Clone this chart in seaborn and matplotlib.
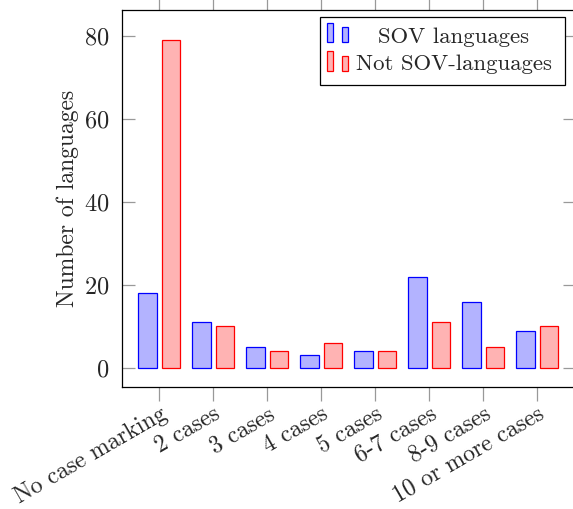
import matplotlib
matplotlib.use("Agg")
import matplotlib.pyplot as plt
import seaborn as sns
import pandas as pd
from matplotlib.patches import Rectangle

categories = ["No case marking", "2 cases", "3 cases", "4 cases", "5 cases",
              "6-7 cases", "8-9 cases", "10 or more cases"]
sov_values = [18, 11, 5, 3, 4, 22, 16, 9]
not_sov_values = [79, 10, 4, 6, 4, 11, 5, 10]
series_names = ["SOV languages", "Not SOV-languages"]
y_ticks = [0, 20, 40, 60, 80]

fills = ["#b3b3ff", "#ffb3b3"]
edges = ["#0000ff", "#ff0000"]

sns.set_style("white")
plt.rcParams["font.family"] = ["cmr10", "DejaVu Serif"]
plt.rcParams["axes.formatter.use_mathtext"] = True
plt.rcParams["mathtext.fontset"] = "cm"

df = pd.DataFrame({
    "category": categories * 2,
    "value": sov_values + not_sov_values,
    "series": [series_names[0]] * len(categories) + [series_names[1]] * len(categories),
})

W, H = 573, 509
fig = plt.figure(figsize=(W / 100, H / 100), dpi=100)
ax_left, ax_right, ax_top, ax_bottom = 121.5, 575.0, 10.0, 387.0
ax = fig.add_axes([ax_left / W, 1 - ax_bottom / H, (ax_right - ax_left) / W, (ax_bottom - ax_top) / H])

sns.barplot(data=df, x="category", y="value", hue="series", order=categories,
            hue_order=series_names, palette=fills, saturation=1, width=0.87, gap=0.2,
            linewidth=0.9, legend=False, ax=ax)
for cont, ec in zip(ax.containers, edges):
    for p in cont:
        p.set_edgecolor(ec)

ax.set_xlim(-0.70, len(categories) - 1 + 0.70)
ax.set_ylim(-4.6, 86.3)
ax.set_yticks(y_ticks)
ax.set_xlabel("")
ax.set_ylabel("Number of languages", fontsize=17, labelpad=3)

for s in ax.spines.values():
    s.set_visible(True)
    s.set_color("black")
    s.set_linewidth(0.9)

ax.tick_params(axis="y", direction="in", length=9, width=0.9, color="#999999",
               left=True, right=True, labelsize=17.5, pad=9)
ax.tick_params(axis="x", direction="out", length=10, width=0.9, color="#999999",
               bottom=True, top=True, labelsize=17, pad=1.5)
ax.set_xticks(range(len(categories)))
ax.set_xticklabels(categories, rotation=30, ha="right", va="top", rotation_mode="anchor")

# legend (pgfplots style, centered text)
def fr(x, y):
    return (x / W, 1 - y / H)

def add_rect(x0, y0, x1, y1, fc, ec, lw=0.9):
    fx, fy = fr(x0, y1)
    fig.add_artist(Rectangle((fx, fy), (x1 - x0) / W, (y1 - y0) / H, facecolor=fc,
                             edgecolor=ec, linewidth=lw, transform=fig.transFigure))

add_rect(320, 17, 565, 85, "white", "black")
rows = [(37, 23, 27, 42), (64, 51, 56, 71)]
for i, (yc, t1, t2, b) in enumerate(rows):
    add_rect(327, t1, 333, b, fills[i], edges[i])
    add_rect(342, t2, 348, b, fills[i], edges[i])
    fig.text(454 / W, 1 - yc / H, series_names[i], ha="center", va="center", fontsize=16.4)

fig.savefig("out.png", dpi=100)
